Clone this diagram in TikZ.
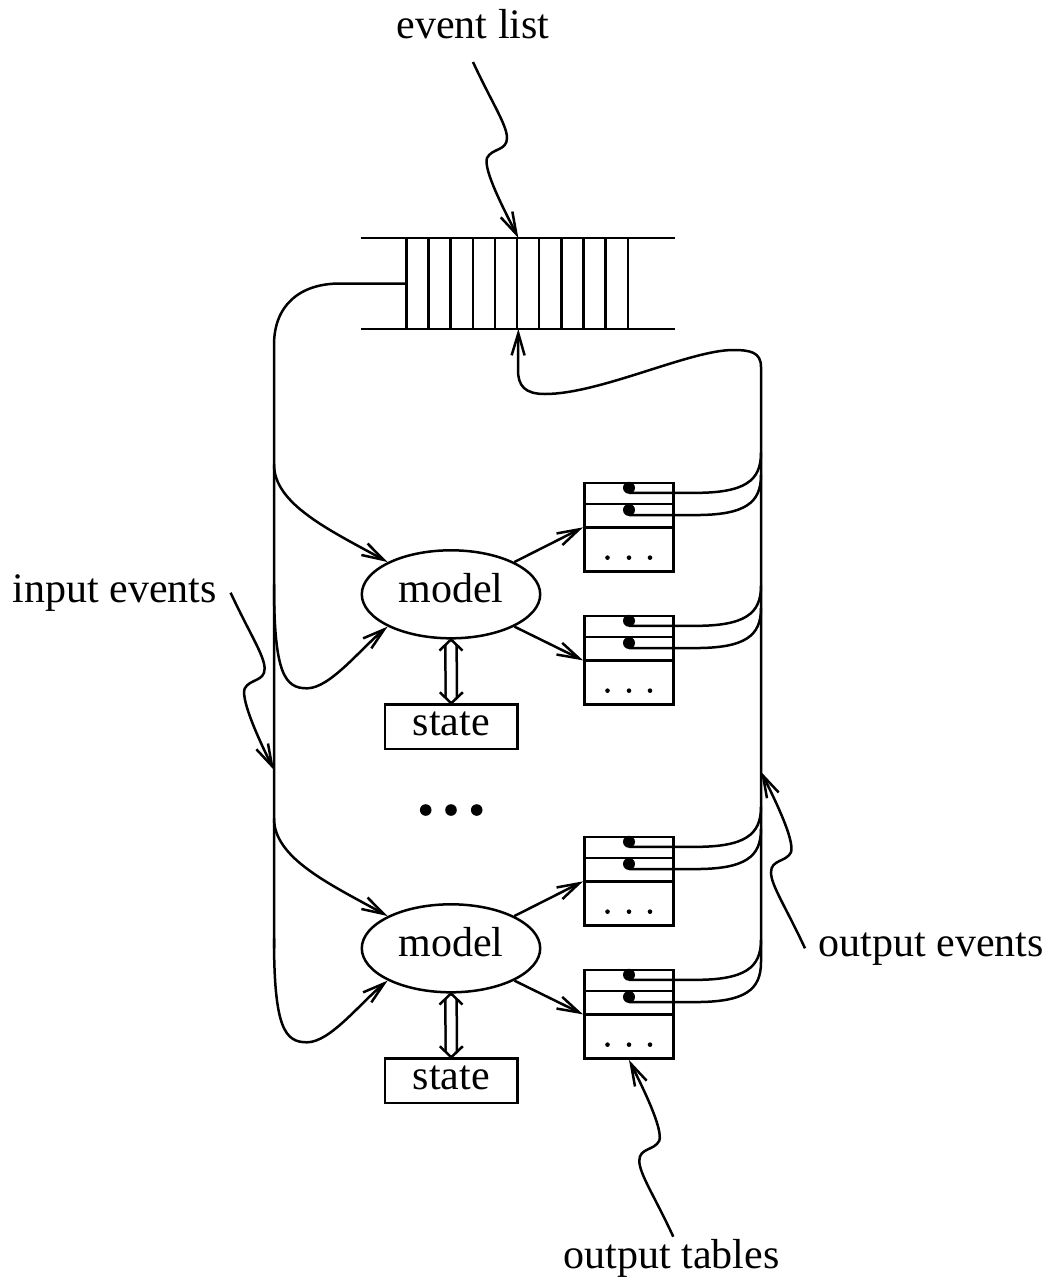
\documentclass[tikz,border=0pt]{standalone}
\usepackage{fontspec}
\setmainfont{Liberation Serif}
\usetikzlibrary{arrows.meta,calc,shapes.geometric}

\tikzset{
  arr/.style={-{Straight Barb[length=11pt,width=6.5pt]}},
  lbl/.style={inner sep=0pt, font=\fontsize{21pt}{25pt}\selectfont},
  modelnode/.style={ellipse, draw, minimum width=89.2pt, minimum height=44pt,
    inner sep=0pt, font=\fontsize{21pt}{25pt}\selectfont,
    text height=14.1pt, text depth=5.7pt},
  statenode/.style={rectangle, draw, minimum width=66.4pt, minimum height=22.2pt,
    inner sep=0pt, font=\fontsize{21pt}{25pt}\selectfont,
    text height=12pt, text depth=3pt},
  tablenode/.style={rectangle, draw, minimum width=44.7pt, minimum height=44.35pt,
    inner sep=0pt},
}

% wavy pointer from a label down to its target
\newcommand\leaderdown[2]{\draw[arr] (#1)
  .. controls ($(#1)+(19,41)$) and ($(#1)+(34,63)$) .. ($(#1)+(34,76)$)
  .. controls ($(#1)+(34,89)$) and ($(#1)+(19,86)$) .. ($(#1)+(14,96)$)
  .. controls ($(#1)+(10,108)$) and ($(#2)+(-13,-26)$) .. (#2);}
% the same pointer, running upwards
\newcommand\leaderup[2]{\draw[arr] (#1)
  .. controls ($(#1)+(-19,-41)$) and ($(#1)+(-34,-63)$) .. ($(#1)+(-34,-76)$)
  .. controls ($(#1)+(-34,-89)$) and ($(#1)+(-19,-86)$) .. ($(#1)+(-14,-96)$)
  .. controls ($(#1)+(-10,-108)$) and ($(#2)+(13,26)$) .. (#2);}

\begin{document}
\begin{tikzpicture}[x=0.5pt,y=-0.5pt,line width=1.25pt]
\useasboundingbox (0,0) rectangle (1054,1287);

% event list queue
\node[minimum width=110.65pt, minimum height=44.2pt, inner sep=0pt] (queue) at (518.35,283.5) {};
\draw ($(queue.north west)+(-45.6,0)$) -- ($(queue.north east)+(45,0)$);
\draw ($(queue.south west)+(-45.6,0)$) -- ($(queue.south east)+(45,0)$);
\foreach \k in {0,...,10}
  \draw ($(queue.north west)+(22.13*\k,0)$) -- ($(queue.south west)+(22.13*\k,0)$);

% the two model groups
\foreach \g/\dy in {1/0,2/354}{
  \node[modelnode] (m\g) at (451,{594.3+\dy}) {model};
  \node[statenode] (s\g) at (451.3,{726.7+\dy}) {state};
  \node[tablenode] (ta\g) at (629,{527.35+\dy}) {};
  \node[tablenode] (tb\g) at (629,{660.35+\dy}) {};
  % input event arrows from the left bus
  \draw[arr] (274,{594.3+\dy-130}) .. controls (274,{594.3+\dy-90}) and (330,{594.3+\dy-64}) .. (m\g.153);
  \draw[arr] (274,{594.3+\dy-10}) .. controls (274,{594.3+\dy+80}) and (285,{594.3+\dy+94}) .. (307,{594.3+\dy+94})
     .. controls (330,{594.3+\dy+94}) and (360,{594.3+\dy+55}) .. (m\g.207);
  % model to output tables
  \draw[arr] (m\g.27) -- (ta\g.west);
  \draw[arr] (m\g.-27) -- (tb\g.west);
  % model <-> state
  \draw[double, double distance=4.4pt] ($(m\g.south)+(0,5.5)$) -- ($(s\g.north)+(0,-5.5)$);
  \draw ($(m\g.south)+(-11.5,11)$) -- (m\g.south) -- ($(m\g.south)+(11.5,11)$);
  \draw ($(s\g.north)+(-11.5,-11)$) -- (s\g.north) -- ($(s\g.north)+(11.5,-11)$);
}

% output table rows, pointers and links to the right bus
\foreach \t in {ta1,tb1,ta2,tb2}{
  \draw ($(\t.north west)+(0,22.2)$) -- ($(\t.north east)+(0,22.2)$);
  \draw (\t.west) -- (\t.east);
  \foreach \dx in {-21.5,0,21}
    \fill ($(\t.south)+(\dx,-15.3)$) circle[radius=1.15pt];
  \fill ($(\t.north)+(0,6)$) circle[radius=3pt];
  \fill ($(\t.north)+(0,28.2)$) circle[radius=3pt];
  \draw ($(\t.north)+(0,11.1)$) -- ($(\t.north)+(66,11.1)$)
    .. controls ($(\t.north)+(116,11.1)$) and ($(\t.north)+(132,-1)$) .. ($(\t.north)+(132,-28.9)$);
  \draw ($(\t.north)+(0,33.3)$) -- ($(\t.north)+(66,33.3)$)
    .. controls ($(\t.north)+(116,33.3)$) and ($(\t.north)+(132,21.3)$) .. ($(\t.north)+(132,-6.7)$);
}

% left bus: from the queue head down past both models
\coordinate (lcorner) at (274,345);
\draw (queue.west) -- (340,283.5) .. controls (300,283.5) and (274,305) .. (lcorner) -- (274,948.3);

% right bus: output events back into the queue
\coordinate (rbot) at ($(tb2.north)+(132,-6.7)$);
\coordinate (rtop) at (761,367);
\draw[arr] (rbot) -- (rtop) .. controls (761,352) and (750,350) .. (733,350)
  .. controls (690,350) and (600,394) .. (545,394)
  .. controls (525,394) and (518,386) .. (518,370) -- (queue.south);

% ellipsis between the groups
\foreach \x in {425.7,451,476.7}
  \fill (\x,810) circle[radius=2.9pt];

% labels
\node[lbl, anchor=base] (el) at (473,38.3) {event list};
\node[lbl, anchor=base] (ie) at (114.7,602.7) {input events};
\node[lbl, anchor=base west] (oe) at (817.3,956.7) {output events};
\node[lbl, anchor=base] (ot) at (671.5,1268) {output tables};

\coordinate (elS) at ($(el.base)+(0,23.7)$);
\leaderdown{elS}{queue.north}
\coordinate (ieS) at ($(ie.base east)+(12.6,-10)$);
\coordinate (ieT) at (274,770);
\leaderdown{ieS}{ieT}
\coordinate (oeS) at ($(oe.base west)+(-12.3,-8.4)$);
\coordinate (oeT) at (761,771.7);
\leaderup{oeS}{oeT}
\coordinate (otS) at ($(ot.base)+(1.8,-31.3)$);
\leaderup{otS}{tb2.south}
\end{tikzpicture}
\end{document}
